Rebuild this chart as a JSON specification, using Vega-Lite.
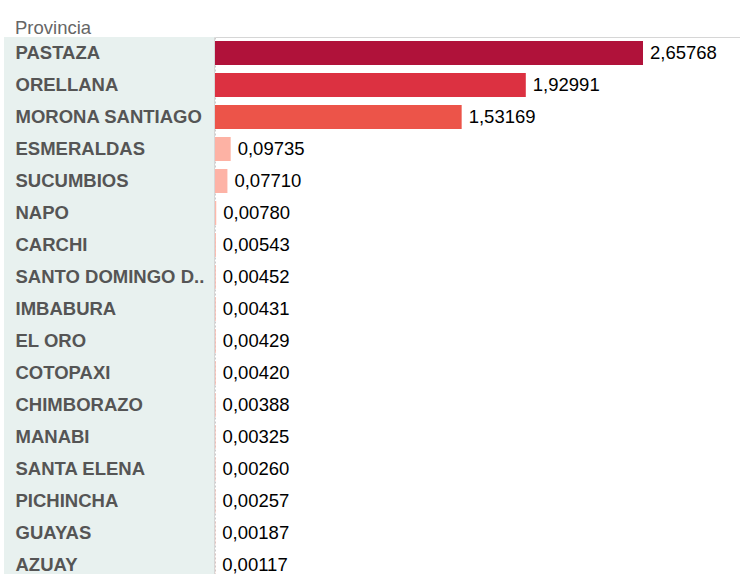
{
  "$schema": "https://vega.github.io/schema/vega-lite/v6.json",
  "padding": {"left": 3, "top": 18, "right": 0, "bottom": 0},
  "background": "white",
  "config": {
    "locale": {"number": {"decimal": ",", "thousands": ".", "grouping": [3], "currency": ["", "€"]}},
    "view": {"stroke": null},
    "font": "Liberation Sans",
    "concat": {"spacing": 0}
  },
  "data": {
    "values": [
      {"Provincia": "PASTAZA", "Value": 2.65768},
      {"Provincia": "ORELLANA", "Value": 1.92991},
      {"Provincia": "MORONA SANTIAGO", "Value": 1.53169},
      {"Provincia": "ESMERALDAS", "Value": 0.09735},
      {"Provincia": "SUCUMBIOS", "Value": 0.0771},
      {"Provincia": "NAPO", "Value": 0.0078},
      {"Provincia": "CARCHI", "Value": 0.00543},
      {"Provincia": "SANTO DOMINGO D..", "Value": 0.00452},
      {"Provincia": "IMBABURA", "Value": 0.00431},
      {"Provincia": "EL ORO", "Value": 0.00429},
      {"Provincia": "COTOPAXI", "Value": 0.0042},
      {"Provincia": "CHIMBORAZO", "Value": 0.00388},
      {"Provincia": "MANABI", "Value": 0.00325},
      {"Provincia": "SANTA ELENA", "Value": 0.0026},
      {"Provincia": "PICHINCHA", "Value": 0.00257},
      {"Provincia": "GUAYAS", "Value": 0.00187},
      {"Provincia": "AZUAY", "Value": 0.00117}
    ]
  },
  "hconcat": [
    {
      "width": 210,
      "height": 544,
      "title": {"text": "Provincia", "anchor": "start", "fontSize": 18.5, "fontWeight": "normal", "color": "#666666", "dx": 11, "offset": 0, "font": "Liberation Sans"},
      "view": {"fill": "#e8f1ef", "stroke": "#d6d6d6"},
      "mark": {"type": "rect", "fill": "#e8f1ef"},
      "encoding": {
        "y": {
          "field": "Provincia", "type": "nominal", "sort": null,
          "scale": {"paddingInner": 0, "paddingOuter": 0},
          "axis": {"title": null, "ticks": false, "tickSize": 0, "domain": false, "labelAlign": "left", "labelPadding": -11, "labelFontSize": 18.5, "labelFontWeight": "bold", "labelColor": "#555555", "labelFont": "Liberation Sans", "labelLimit": 0}
        }
      }
    },
    {
      "width": 525,
      "height": 544,
      "encoding": {
        "y": {"field": "Provincia", "type": "nominal", "sort": null,
          "scale": {"paddingInner": 0.25, "paddingOuter": 0.125},
          "axis": {"title": null, "labels": false, "ticks": false, "domain": true, "domainColor": "#cccccc", "domainDash": [2, 2]}},
        "x": {"field": "Value", "type": "quantitative",
          "scale": {"domain": [0, 3.26], "nice": false, "zero": true},
          "axis": {"orient": "top", "title": null, "labels": false, "ticks": false, "grid": false, "domain": true, "domainColor": "#d6d6d6"}}
      },
      "layer": [
        {
          "mark": {"type": "bar"},
          "encoding": {
            "color": {"field": "Value", "type": "quantitative",
              "scale": {"domain": [0, 1.53169, 1.92991, 2.65768], "range": ["#fdb8ab", "#ec5449", "#dc3141", "#b0123a"]},
              "legend": null}
          }
        },
        {
          "mark": {"type": "text", "align": "left", "baseline": "middle", "dx": 7, "fontSize": 18.5, "color": "#000000", "font": "Liberation Sans"},
          "encoding": {
            "text": {"field": "Value", "type": "quantitative", "format": ",.5f"}
          }
        }
      ]
    }
  ]
}
